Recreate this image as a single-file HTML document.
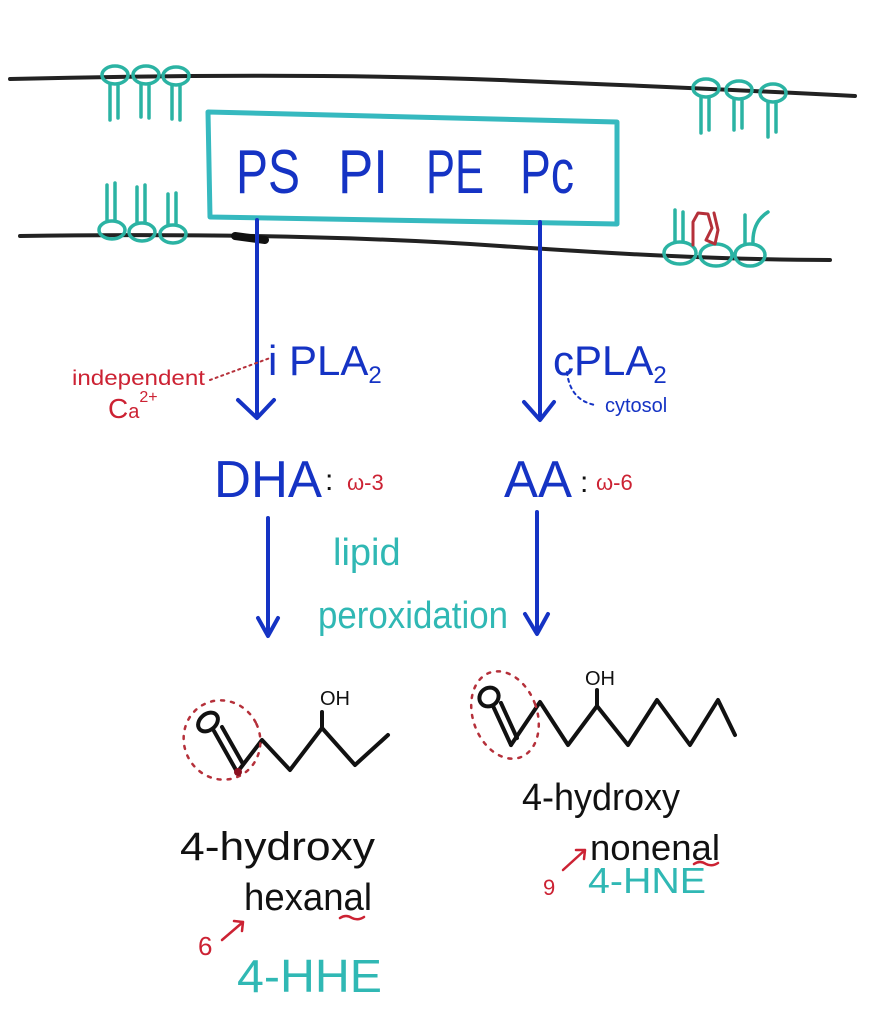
<!DOCTYPE html>
<html><head><meta charset="utf-8"><style>
html,body{margin:0;padding:0;background:#fff;}
svg{display:block;}
text{font-family:"Liberation Sans",sans-serif;}
</style></head><body>
<svg width="876" height="1013" viewBox="0 0 876 1013" xmlns="http://www.w3.org/2000/svg">
<g fill="none" stroke-linecap="round" stroke-linejoin="round">
<!-- membranes -->
<path d="M10 79 Q300 72 500 80 T855 96" stroke="#222" stroke-width="4"/>
<path d="M20 236 Q300 232 500 246 T830 260" stroke="#222" stroke-width="4"/>
<path d="M235 236 L265 240" stroke="#111" stroke-width="8"/>
<g stroke="#2bb3a3" stroke-width="3.5">
<ellipse cx="115" cy="75" rx="13" ry="9"/><ellipse cx="146" cy="75" rx="13" ry="9"/><ellipse cx="176" cy="76" rx="13" ry="9"/>
<path d="M110 84 V120 M118 84 V118 M141 84 V117 M149 84 V118 M172 85 V119 M180 85 V120"/>
<ellipse cx="706" cy="88" rx="13" ry="9"/><ellipse cx="739" cy="90" rx="13" ry="9"/><ellipse cx="773" cy="93" rx="13" ry="9"/>
<path d="M701 97 V133 M709 97 V130 M734 99 V130 M742 99 V128 M768 102 V137 M776 102 V132"/>
<ellipse cx="112" cy="230" rx="13" ry="9"/><ellipse cx="142" cy="232" rx="13" ry="9"/><ellipse cx="173" cy="234" rx="13" ry="9"/>
<path d="M107 221 V185 M115 221 V183 M137 223 V187 M145 223 V185 M168 225 V194 M176 225 V193"/>
<ellipse cx="680" cy="253" rx="16" ry="11"/><ellipse cx="716" cy="255" rx="16" ry="11"/><ellipse cx="750" cy="255" rx="15" ry="11"/>
<path d="M675 242 V210 M683 242 V212 M745 244 V215 M753 244 Q752 222 768 212"/>
</g>
<path d="M693 245 V222 L698 213 L708 214 L712 228 L706 240 L715 244 L718 230 L714 213" stroke="#b5303a" stroke-width="3"/>
<path d="M208 112 L617 122 L617 224 L210 217 Z" stroke="#36b9bf" stroke-width="5"/>
<g stroke="#1533c4" stroke-width="4">
<path d="M257 220 V416 M238 400 L257 418 L274 400"/>
<path d="M540 222 V418 M524 402 L540 420 L554 402"/>
<path d="M268 518 V635 M258 618 L268 636 L278 618"/>
<path d="M537 512 V632 M525 614 L537 634 L548 614"/>
</g>
<path d="M210 380 L270 358" stroke="#b5303a" stroke-width="2" stroke-dasharray="2 4"/>
<path d="M567 372 Q570 400 595 405" stroke="#1533c4" stroke-width="2" stroke-dasharray="3 4"/>
<g stroke="#111" stroke-width="4">
<ellipse cx="208" cy="722" rx="11" ry="8" transform="rotate(-40 208 722)"/>
<path d="M214 731 L236 770 M222 727 L243 764"/>
<path d="M239 770 L262 740 L290 770 L322 728 L355 765 L388 735 M322 728 V712"/>
<ellipse cx="489" cy="697" rx="10" ry="9" transform="rotate(-40 489 697)"/>
<path d="M493 706 L511 745 M501 703 L517 738"/>
<path d="M511 745 L540 702 L568 745 L597 706 L628 745 L657 700 L690 745 L718 700 L735 735 M597 706 V690"/>
</g>
<g stroke="#b5303a" stroke-width="2.5" stroke-dasharray="3 7">
<ellipse cx="222" cy="740" rx="38" ry="40" transform="rotate(-25 222 740)"/>
<ellipse cx="505" cy="715" rx="32" ry="45" transform="rotate(-20 505 715)"/>
</g>
<circle cx="238" cy="772" r="4" fill="#8a1020"/>
<g stroke="#cc2233" stroke-width="2.5">
<path d="M222 940 L243 922 M234 921 L243 922 L242 931"/>
<path d="M563 870 L585 850 M576 850 L585 850 L584 859"/>
<path d="M340 918 Q346 914 352 918 Q358 921 364 917"/>
<path d="M694 864 Q700 860 706 864 Q712 867 718 863"/>
</g>
</g>
<g font-size="62" fill="#1533c4">
<text x="236" y="193" textLength="64" lengthAdjust="spacingAndGlyphs">PS</text>
<text x="338" y="193" textLength="50" lengthAdjust="spacingAndGlyphs">PI</text>
<text x="426" y="193" textLength="58" lengthAdjust="spacingAndGlyphs">PE</text>
<text x="520" y="193" textLength="54" lengthAdjust="spacingAndGlyphs">Pc</text>
</g>
<text x="268" y="375" font-size="42" fill="#1533c4">i PLA<tspan font-size="24" dy="8">2</tspan></text>
<text x="553" y="375" font-size="42" fill="#1533c4">cPLA<tspan font-size="24" dy="8">2</tspan></text>
<text x="72" y="385" font-size="21" fill="#cc2233" textLength="133" lengthAdjust="spacingAndGlyphs">independent</text>
<text x="108" y="418" font-size="28" fill="#cc2233">C<tspan font-size="20">a</tspan><tspan font-size="16" dy="-16">2+</tspan></text>
<text x="605" y="412" font-size="20" fill="#1533c4">cytosol</text>
<text x="214" y="497" font-size="52" fill="#1533c4" textLength="108" lengthAdjust="spacingAndGlyphs">DHA</text>
<text x="325" y="490" font-size="30" fill="#111">:</text>
<text x="347" y="490" font-size="22" fill="#cc2233">ω-3</text>
<text x="504" y="497" font-size="52" fill="#1533c4" textLength="68" lengthAdjust="spacingAndGlyphs">AA</text>
<text x="580" y="492" font-size="30" fill="#111">:</text>
<text x="596" y="490" font-size="22" fill="#cc2233">ω-6</text>
<text x="333" y="565" font-size="38" fill="#30b8b4">lipid</text>
<text x="318" y="628" font-size="38" fill="#30b8b4" textLength="190" lengthAdjust="spacingAndGlyphs">peroxidation</text>
<text x="320" y="705" font-size="20" fill="#111">OH</text>
<text x="585" y="685" font-size="20" fill="#111">OH</text>
<text x="180" y="860" font-size="40" fill="#111" textLength="195" lengthAdjust="spacingAndGlyphs">4-hydroxy</text>
<text x="244" y="910" font-size="38" fill="#111" textLength="128" lengthAdjust="spacingAndGlyphs">hexanal</text>
<text x="198" y="955" font-size="26" fill="#cc2233">6</text>
<text x="237" y="992" font-size="46" fill="#30b8b4" textLength="145" lengthAdjust="spacingAndGlyphs">4-HHE</text>
<text x="522" y="810" font-size="38" fill="#111" textLength="158" lengthAdjust="spacingAndGlyphs">4-hydroxy</text>
<text x="590" y="860" font-size="36" fill="#111" textLength="130" lengthAdjust="spacingAndGlyphs">nonenal</text>
<text x="543" y="895" font-size="22" fill="#cc2233">9</text>
<text x="588" y="893" font-size="36" fill="#30b8b4" textLength="118" lengthAdjust="spacingAndGlyphs">4-HNE</text>
</svg>
</body></html>
